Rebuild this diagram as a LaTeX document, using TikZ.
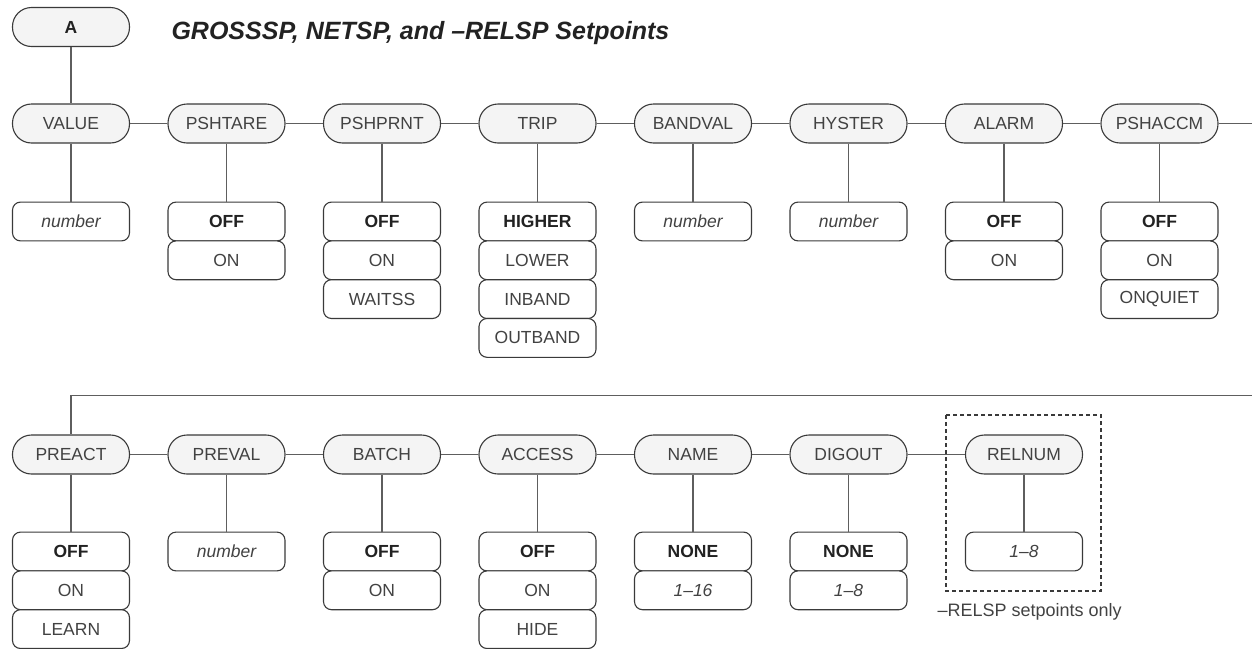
\documentclass[tikz,border=0pt]{standalone}
\usepackage{fontspec}
\setmainfont{Liberation Sans}
\usetikzlibrary{calc}
\definecolor{linegray}{HTML}{5E5E5E}
\definecolor{boxline}{HTML}{3A3A3A}
\definecolor{pillfill}{HTML}{F4F4F4}
\definecolor{labeltext}{HTML}{424242}
\definecolor{darktext}{HTML}{222222}
\tikzset{
	menu/.style={draw=boxline, fill=pillfill, line width=1.1pt, rounded corners=19pt,
			minimum width=117pt, minimum height=39pt, inner sep=0pt,
			text=labeltext, font=\fontsize{17.5}{17.5}\selectfont},
	choice/.style={draw=boxline, fill=white, line width=1.1pt, rounded corners=8pt,
			minimum width=117pt, minimum height=38.8pt, inner sep=0pt,
			text=labeltext, font=\fontsize{17.5}{17.5}\selectfont},
	link/.style={draw=linegray, line width=1.3pt}
}
\newcommand{\dflt}[1]{\textcolor{darktext}{\textbf{#1}}}

\begin{document}
\begin{tikzpicture}[x=1pt, y=-1pt]
		\useasboundingbox (0,0) rectangle (1252,648);

		% Entry point and title
		\node[menu] (a) at (71,27) {\dflt{A}};
		\node[anchor=base west, text=darktext, font=\fontsize{25}{25}\selectfont\bfseries\itshape] (title) at (168,39) {GROSSSP, NETSP, and –RELSP Setpoints};

		% First row of menu items
		\node[menu] (value) at (71,123.5) {VALUE};
		\node[menu] (pshtare) at (226.5,123.5) {PSHTARE};
		\node[menu] (pshprnt) at (382,123.5) {PSHPRNT};
		\node[menu] (trip) at (537.5,123.5) {TRIP};
		\node[menu] (bandval) at (693,123.5) {BANDVAL};
		\node[menu] (hyster) at (848.5,123.5) {HYSTER};
		\node[menu] (alarm) at (1004,123.5) {ALARM};
		\node[menu] (pshaccm) at (1159.5,123.5) {PSHACCM};
		\coordinate (rowend) at (1252,123.5);

		% Choices below the first row
		\node[choice] (value1) at (71,221.5) {\itshape number};
		\node[choice] (pshtare1) at (226.5,221.5) {\dflt{OFF}};
		\node[choice] (pshtare2) at (226.5,260.3) {ON};
		\node[choice] (pshprnt1) at (382,221.5) {\dflt{OFF}};
		\node[choice] (pshprnt2) at (382,260.3) {ON};
		\node[choice] (pshprnt3) at (382,299.1) {WAITSS};
		\node[choice] (trip1) at (537.5,221.5) {\dflt{HIGHER}};
		\node[choice] (trip2) at (537.5,260.3) {LOWER};
		\node[choice] (trip3) at (537.5,299.1) {INBAND};
		\node[choice] (trip4) at (537.5,337.9) {OUTBAND};
		\node[choice] (bandval1) at (693,221.5) {\itshape number};
		\node[choice] (hyster1) at (848.5,221.5) {\itshape number};
		\node[choice] (alarm1) at (1004,221.5) {\dflt{OFF}};
		\node[choice] (alarm2) at (1004,260.3) {ON};
		\node[choice] (pshaccm1) at (1159.5,221.5) {\dflt{OFF}};
		\node[choice] (pshaccm2) at (1159.5,260.3) {ON};
		\node[choice] (pshaccm3) at (1159.5,299.1) {ONQUIET};

		% Second row of menu items
		\node[menu] (preact) at (71,454.5) {PREACT};
		\node[menu] (preval) at (226.5,454.5) {PREVAL};
		\node[menu] (batch) at (382,454.5) {BATCH};
		\node[menu] (access) at (537.5,454.5) {ACCESS};
		\node[menu] (name) at (693,454.5) {NAME};
		\node[menu] (digout) at (848.5,454.5) {DIGOUT};
		\node[menu] (relnum) at (1024,454.5) {RELNUM};
		\coordinate (wrapend) at (1252,395.5);

		% Choices below the second row
		\node[choice] (preact1) at (71,551.5) {\dflt{OFF}};
		\node[choice] (preact2) at (71,590.3) {ON};
		\node[choice] (preact3) at (71,629.1) {LEARN};
		\node[choice] (preval1) at (226.5,551.5) {\itshape number};
		\node[choice] (batch1) at (382,551.5) {\dflt{OFF}};
		\node[choice] (batch2) at (382,590.3) {ON};
		\node[choice] (access1) at (537.5,551.5) {\dflt{OFF}};
		\node[choice] (access2) at (537.5,590.3) {ON};
		\node[choice] (access3) at (537.5,629.1) {HIDE};
		\node[choice] (name1) at (693,551.5) {\dflt{NONE}};
		\node[choice] (name2) at (693,590.3) {\itshape 1–16};
		\node[choice] (digout1) at (848.5,551.5) {\dflt{NONE}};
		\node[choice] (digout2) at (848.5,590.3) {\itshape 1–8};
		\node[choice] (relnum1) at (1024,551.5) {\itshape 1–8};

		% Connectors
		\draw[link] (a) -- (value);
		\draw[link] (value) -- (pshtare) (pshtare) -- (pshprnt) (pshprnt) -- (trip) (trip) -- (bandval)
			(bandval) -- (hyster) (hyster) -- (alarm) (alarm) -- (pshaccm) (pshaccm) -- (rowend);
		\draw[link] (value) -- (value1) (pshtare) -- (pshtare1) (pshprnt) -- (pshprnt1) (trip) -- (trip1)
			(bandval) -- (bandval1) (hyster) -- (hyster1) (alarm) -- (alarm1) (pshaccm) -- (pshaccm1);
		\draw[link] (wrapend) -- (preact |- wrapend) -- (preact);
		\draw[link] (preact) -- (preval) (preval) -- (batch) (batch) -- (access) (access) -- (name)
			(name) -- (digout) (digout) -- (relnum);
		\draw[link] (preact) -- (preact1) (preval) -- (preval1) (batch) -- (batch1) (access) -- (access1)
			(name) -- (name1) (digout) -- (digout1) (relnum) -- (relnum1);

		% Relay-only group
		\draw[boxline, line width=1.1pt, dash pattern=on 4pt off 3pt] (946,415) rectangle (1101,591);
		\node[anchor=base west, text=labeltext, font=\fontsize{18}{18}\selectfont] (note) at (934,616) {–RELSP setpoints only};
	\end{tikzpicture}
\end{document}
